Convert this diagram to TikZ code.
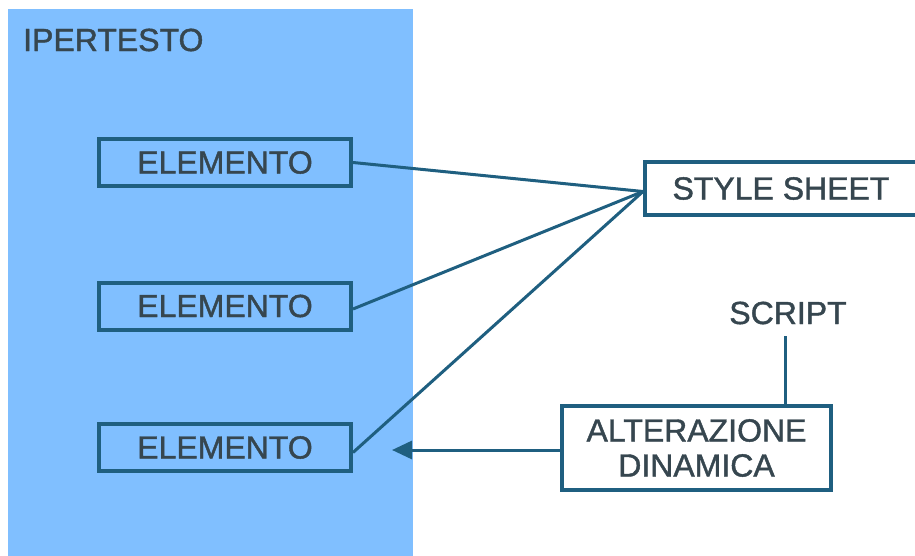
\documentclass[tikz,border=0pt]{standalone}
\usepackage{fontspec}
\setmainfont{Liberation Sans}[BoldFont=Liberation Sans, BoldFeatures={FakeBold=1.3}]
\usetikzlibrary{arrows.meta}
\definecolor{panel}{HTML}{80BFFF}
\definecolor{edge}{HTML}{1F5F80}
\definecolor{ink}{HTML}{36464F}
\tikzset{
  lbl/.style={font=\fontsize{32}{35}\selectfont\bfseries, text=ink, inner sep=0pt},
  box/.style={draw=edge, line width=4pt, inner sep=0pt, lbl},
  link/.style={draw=edge, line width=3pt},
}
\begin{document}
\begin{tikzpicture}[x=1pt,y=-1pt]
\useasboundingbox (0,0) rectangle (915,556);
% hypertext panel
\fill[panel] (8,9) rectangle (413,560);
\node[lbl, anchor=west] (ip) at (23,40) {IPERTESTO};
% elements
\node[box, minimum width=252pt, minimum height=47pt] (e1) at (225,162.5) {ELEMENTO};
\node[box, minimum width=252pt, minimum height=47pt] (e2) at (225,306) {ELEMENTO};
\node[box, minimum width=252pt, minimum height=47pt] (e3) at (225,447.5) {ELEMENTO};
% style sheet
\node[box, minimum width=272pt, minimum height=53pt, fill=white] (ss) at (781,188.5) {STYLE SHEET};
% script and dynamic alteration
\node[lbl] (sc) at (788,313) {SCRIPT};
\node[box, minimum width=269pt, minimum height=84pt, align=center, fill=white] (da) at (696.5,448)
  {ALTERAZIONE\\DINAMICA};
\coordinate (hub) at ([yshift=-3pt]ss.west);
\coordinate (tip) at (392,450);
\coordinate (sctop) at (785,336);
\draw[link] (e1.east) -- (hub);
\draw[link] ([yshift=-3pt]e2.east) -- (hub);
\draw[link] ([yshift=-5pt]e3.east) -- (hub);
\draw[link] (sctop) -- (sctop |- da.north);
\draw[link, -{Triangle[length=20pt,width=18pt]}] (da.west |- tip) -- (tip);
\end{tikzpicture}
\end{document}
